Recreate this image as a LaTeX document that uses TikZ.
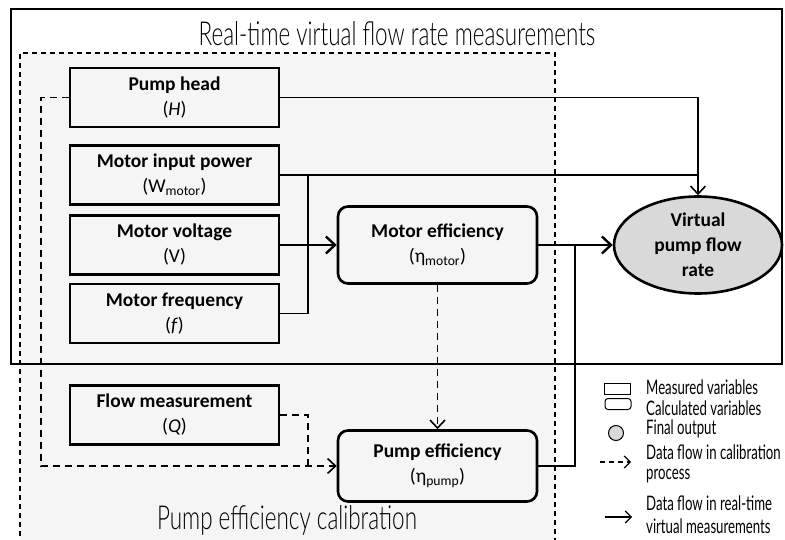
\documentclass[tikz,border=0pt]{standalone}
\usepackage{fontspec}
\setmainfont{Carlito}
\newfontfamily\agency[FakeStretch=0.68]{Lato Light}
\newfontfamily\agencyleg[FakeStretch=0.66]{Lato}
\usetikzlibrary{arrows.meta,positioning,shapes.geometric}
\definecolor{calibgray}{HTML}{F5F5F5}
\definecolor{outgray}{HTML}{D9D9D9}
\tikzset{
  measbox/.style={draw, line width=2.6pt, minimum width=209pt, minimum height=59pt,
    align=center, inner sep=0pt, font=\fontsize{19.5}{25}\selectfont},
  calcbox/.style={measbox, rounded corners=10pt, minimum width=199pt, minimum height=77pt},
  flow/.style={line width=1.4pt},
  boldflow/.style={line width=2.6pt},
  calib/.style={line width=1.8pt, dash pattern=on 7pt off 5pt},
  tip/.style={-{Straight Barb[length=8pt,width=15pt,line width=1.6pt]}},
  boldtip/.style={-{Straight Barb[length=9pt,width=17pt,line width=2.4pt]}},
  legtext/.style={anchor=west, inner sep=0pt, font=\agencyleg\fontsize{20}{22}\selectfont},
  titletext/.style={inner sep=0pt, font=\agency\fontsize{33}{36}\selectfont}
}
\begin{document}
\begin{tikzpicture}[x=1pt, y=-1pt]
    \useasboundingbox (0,0) rectangle (785,540);

    % Calibration region and real-time region
    \fill[calibgray] (20,53) rectangle (555,545);
    \draw[line width=1.2pt, dash pattern=on 5pt off 4pt] (20,545) -- (20,53) -- (555,53) -- (555,545);
    \draw[line width=1.2pt] (11,9) rectangle (782,364);
    \node[titletext] (rttitle) at (397,34) {Real-time virtual flow rate measurements};
    \node[titletext] (caltitle) at (287,520) {Pump efficiency calibration};

    % Measured variables
    \node[measbox] (head) at (174.5,97.5) {\textbf{Pump head}\\(\textit{H})};
    \node[measbox] (power) at (174.5,175) {\textbf{Motor input power}\\(W\textsubscript{motor})};
    \node[measbox] (volt) at (174.5,245) {\textbf{Motor voltage}\\(V)};
    \node[measbox] (freq) at (174.5,313.5) {\textbf{Motor frequency}\\(\textit{f})};
    \node[measbox] (flowm) at (174.5,415) {\textbf{Flow measurement}\\(\textit{Q})};

    % Calculated variables and output
    \node[calcbox] (meff) at (437.5,245) {\textbf{Motor efficiency}\\(η\textsubscript{motor})};
    \node[calcbox, minimum height=71pt] (peff) at (437.5,466) {\textbf{Pump efficiency}\\(η\textsubscript{pump})};
    \node[ellipse, draw, line width=2.6pt, fill=outgray, minimum width=168pt, minimum height=97pt,
      align=center, inner sep=0pt, font=\fontsize{19.5}{25}\selectfont] (vflow) at (698,245)
      {\textbf{Virtual}\\\textbf{pump flow}\\\textbf{rate}};

    % Junctions
    \coordinate (mbus) at (308,0);
    \coordinate (pbus) at (575,0);
    \coordinate (lbus) at (41,0);

    % Real-time data flow
    \draw[flow, tip] (head.east) -| (vflow.north);
    \draw[flow] (power.east) -- (power.east -| vflow.north);
    \draw[flow] (power.east -| mbus) |- (freq.east);
    \draw[boldflow, boldtip] (volt.east) -- (meff.west);
    \draw[boldflow, boldtip] (meff.east) -- (vflow.west);
    \draw[flow] (peff.east) -| (pbus |- meff.east);

    % Calibration data flow
    \draw[calib, tip] (meff.south) -- (peff.north);
    \draw[calib, tip] (head.west) -| (lbus |- peff.west) -- (peff.west);
    \draw[calib] (flowm.east) -| (mbus |- peff.west);

    % Legend
    \node[draw, line width=1pt, minimum width=26pt, minimum height=11pt, inner sep=0pt] (lgmeas) at (617.5,388.5) {};
    \node[draw, line width=1pt, rounded corners=3pt, minimum width=26pt, minimum height=11pt, inner sep=0pt] (lgcalc) at (618,404) {};
    \node[circle, draw, line width=1pt, fill=outgray, minimum size=15pt, inner sep=0pt] (lgout) at (616,433) {};
    \coordinate (lgca) at (600,462);
    \coordinate (lgcb) at (631,462);
    \coordinate (lgra) at (605,517);
    \coordinate (lgrb) at (632,517);
    \draw[line width=1.2pt, dash pattern=on 5pt off 4pt, -{Straight Barb[length=6pt,width=12pt,line width=1.2pt]}] (lgca) -- (lgcb);
    \draw[line width=1.2pt, -{Straight Barb[length=6pt,width=12pt,line width=1.2pt]}] (lgra) -- (lgrb);
    \node[legtext] (lgt1) at (646,387) {Measured variables};
    \node[legtext] (lgt2) at (646,408) {Calculated variables};
    \node[legtext] (lgt3) at (646,429) {Final output};
    \node[legtext] (lgt4) at (646,452) {Data flow in calibration};
    \node[legtext] (lgt5) at (646,476) {process};
    \node[legtext] (lgt6) at (646,503) {Data flow in real-time};
    \node[legtext] (lgt7) at (646,526) {virtual measurements};
\end{tikzpicture}
\end{document}
